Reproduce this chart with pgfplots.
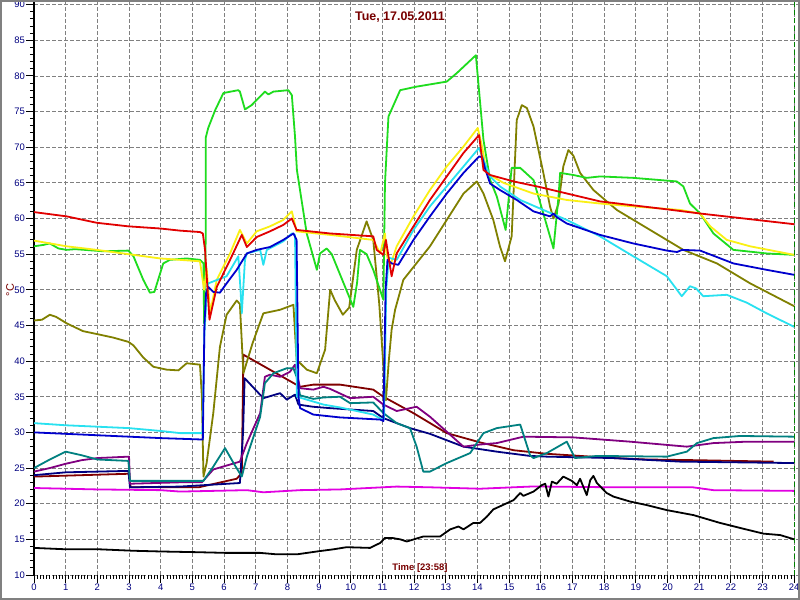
\documentclass[border=0pt]{standalone}
\usepackage{pgfplots}
\pgfplotsset{compat=1.18}
\usepackage{fontspec}
\setmainfont{Liberation Sans}

\definecolor{cred}{RGB}{225,0,0}
\definecolor{cyellow}{RGB}{250,240,20}
\definecolor{cgreen}{RGB}{30,220,30}
\definecolor{cblue}{RGB}{0,0,205}
\definecolor{ccyan}{RGB}{40,225,240}
\definecolor{colive}{RGB}{128,128,0}
\definecolor{cmaroon}{RGB}{128,0,0}
\definecolor{cpurple}{RGB}{128,0,128}
\definecolor{cteal}{RGB}{0,128,128}
\definecolor{cnavy}{RGB}{0,0,128}
\definecolor{cmagenta}{RGB}{225,0,225}
\definecolor{cgrid}{RGB}{128,128,128}
\definecolor{ccursor}{RGB}{0,128,0}
\definecolor{clabel}{RGB}{120,0,0}

\begin{document}
\begin{tikzpicture}[x=1bp,y=1bp]
\useasboundingbox (0,0) rectangle (800,600);
\fill[white] (0,0) rectangle (800,600);
\begin{axis}[
    at={(34bp,25bp)},
    anchor=south west,
    width=764bp,
    height=575bp,
    scale only axis,
    xmin=0, xmax=24.12,
    ymin=10, ymax=90.65,
    xtick={0,1,...,24},
    ytick={10,15,...,90},
    minor x tick num=9,
    minor y tick num=4,
    axis lines*=left,
    x axis line style={draw=none},
    y axis line style={black, line width=1.2bp},
    xmajorgrids, ymajorgrids,
    major grid style={cgrid, line width=0.8bp, dash pattern=on 3.5bp off 2.5bp},
    tick align=outside,
    major tick length=8bp,
    minor tick length=4bp,
    tick style={black, line width=0.9bp},
    ticklabel style={font=\fontsize{9.5}{10}\selectfont, text=cnavy},
    xticklabel style={inner sep=1bp},
    yticklabel style={inner sep=1bp},
    /pgf/number format/assume math mode=true,
    every axis plot/.append style={line width=1.8bp, line join=round},
]

% magenta
\addplot[cmagenta] coordinates {
(0,22.2) (2,22.0) (4,21.9) (4.61,21.7) (6.72,21.9) (7.24,21.6) (8.4,21.9) (9.66,22.0)
(11.45,22.4) (12.5,22.3) (14.08,22.1) (15.66,22.4) (16.19,22.4) (18.29,22.3) (20.8,22.3)
(21.45,21.9) (24,21.8)};

% black
\addplot[black] coordinates {
(0,13.8) (1.03,13.6) (2.08,13.6) (3.14,13.4) (3.98,13.3) (5.14,13.2) (6.08,13.1) (7.14,13.1)
(7.66,12.9) (8.3,12.9) (8.93,13.3) (9.45,13.6) (9.87,13.9) (10.61,13.8) (10.93,14.5)
(11.08,15.2) (11.3,15.2) (11.56,15.0) (11.77,14.7) (12.29,15.4) (12.82,15.4) (13.14,16.4)
(13.4,16.8) (13.56,16.4) (13.87,17.3) (14.08,17.3) (14.3,18.2) (14.5,19.2) (15.14,20.5)
(15.35,21.5) (15.45,21.1) (15.77,21.7) (16.03,22.6) (16.14,22.8) (16.24,21.0) (16.35,23.1)
(16.5,22.8) (16.71,23.8) (16.98,23.2) (17.14,22.6) (17.24,23.5) (17.45,21.2) (17.56,23.3)
(17.66,23.9) (17.77,22.9) (18.08,21.5) (18.29,21.0) (18.82,20.3) (19.35,19.8) (19.98,19.1)
(20.82,18.4) (21.66,17.3) (22.29,16.6) (23.03,15.8) (23.56,15.6) (24,15.0)};

% maroon
\addplot[cmaroon] coordinates {
(0,23.8) (3,24.2) (3.05,22.3) (5.2,22.3) (6.4,23.5) (6.56,24.3) (6.61,40.9) (8.4,36.4)
(8.82,36.7) (9.66,36.7) (10.71,36.0) (11.03,35.0) (11.98,32.7) (13.03,29.9) (14.08,28.6)
(15.14,27.5) (16.19,27.0) (17.24,26.7) (18.29,26.4) (19.35,26.2) (20.93,26.1) (23.35,25.9)};

% navy
\addplot[cnavy] coordinates {
(0,24) (1,24.4) (2,24.5) (2.98,24.6) (3.03,22.3) (4.61,22.4) (6.5,22.9) (6.6,30) (6.65,37.6)
(7.24,34.8) (7.77,35.5) (7.98,34.6) (8.24,35.3) (8.35,33.9) (8.8,33.6) (9.35,33.4)
(10.71,33.0) (11.03,32.0) (11.87,30.6) (12.5,29.8) (13.56,28.0) (14.61,27.3) (15.66,26.7)
(16.19,26.6) (18.29,26.4) (20.4,25.9) (24,25.7)};

% purple
\addplot[cpurple] coordinates {
(0,24.5) (0.5,25) (1,25.6) (1.5,26.1) (2,26.4) (3,26.6) (3.03,22.8) (4.61,23.0) (5.3,23)
(5.66,24.8) (6.5,25.9) (6.72,28.5) (7.14,32.7) (7.29,37.8) (7.45,38.1) (7.77,37.8)
(8.08,38.5) (8.24,39.5) (8.4,36.2) (8.82,36.0) (9.14,36.4) (9.35,36.1) (9.98,34.8)
(10.71,35.0) (11.03,33.9) (11.45,33.0) (12.08,33.6) (12.5,32.2) (13.56,28.0) (14.08,28.3)
(14.61,28.5) (15.45,29.4) (17.03,29.3) (18.82,28.7) (20.61,28.0) (21.45,28.5) (22.5,28.7)
(24,28.7)};

% teal
\addplot[cteal] coordinates {
(0,25) (0.5,26.2) (1,27.3) (1.5,26.8) (2,26.2) (2.98,26.0) (3.03,23.2) (4.61,23.2)
(5.35,23.2) (5.66,25.2) (6.03,27.8) (6.3,25.7) (6.56,23.8) (6.72,26.6) (7.14,32.2)
(7.29,36.9) (7.56,38.3) (7.98,39.0) (8.19,39.0) (8.29,37.8) (8.4,35.2) (8.82,34.7)
(9.14,34.9) (9.66,35.0) (9.98,34.1) (10.71,34.2) (11.03,32.7) (11.45,31.3) (11.87,30.6)
(12.08,28.0) (12.29,24.5) (12.5,24.5) (13.03,25.7) (13.77,27.1) (14.19,29.9) (14.61,30.6)
(15.35,31.1) (15.66,26.8) (15.77,26.4) (16.19,27.1) (16.82,28.7) (17.08,26.4) (17.77,26.7)
(19.98,26.6) (20.61,27.3) (20.93,28.5) (21.45,29.2) (22.29,29.5) (24,29.4)};

% olive
\addplot[colive] coordinates {
(0,45.7) (0.25,45.8) (0.5,46.5) (0.7,46.2) (1.03,45.3) (1.55,44.2) (1.98,43.8) (2.5,43.3)
(2.98,42.7) (3.14,42.2) (3.45,40.5) (3.77,39.2) (4.19,38.8) (4.56,38.7) (4.82,39.7)
(5.24,39.5) (5.3,35) (5.35,23.8) (5.45,25.7) (5.66,32.7) (5.87,42) (6.08,46.5) (6.4,48.5)
(6.5,48) (6.61,38.3) (6.9,42.5) (7.24,46.7) (7.77,47.2) (8.19,47.9) (8.29,40.2) (8.61,38.8)
(8.93,38.3) (9.19,41.6) (9.35,50) (9.5,48.5) (9.75,46.5) (9.95,47.5) (10.19,55.6)
(10.5,59.6) (10.71,57.0) (10.9,48) (11.05,38) (11.11,34.5) (11.2,40) (11.29,44.4)
(11.4,47.2) (11.66,51.4) (12.5,56.1) (13.03,59.8) (13.56,63.5) (13.98,65.2) (14.19,63.5)
(14.5,59.8) (14.71,56.1) (14.87,54.0) (15.08,57.5) (15.24,73.8) (15.4,75.9) (15.56,75.5)
(15.77,72.9) (16.08,66.4) (16.29,61.7) (16.4,60.0) (16.56,62.1) (16.71,67.3) (16.87,69.6)
(17.03,68.8) (17.24,66.4) (17.66,64.0) (18.4,61.2) (19.45,58.4) (20.5,55.6) (21.56,53.7)
(22.61,50.9) (24,47.7)};

% green
\addplot[cgreen] coordinates {
(0,56.1) (0.3,56.3) (0.5,56.5) (0.77,55.8) (1.03,55.6) (1.3,55.7) (2.2,55.4) (2.98,55.5)
(3.14,54.7) (3.45,51.4) (3.66,49.6) (3.8,49.7) (4.08,53.7) (4.29,54.2) (4.82,54.4)
(5.24,54.2) (5.35,53.7) (5.37,45.3) (5.42,57) (5.42,71.3) (5.5,72.7) (5.72,75.2) (5.98,77.6)
(6.45,78.0) (6.5,77.8) (6.66,75.3) (6.87,75.9) (7.29,77.8) (7.4,77.4) (7.56,77.8)
(8.03,78.0) (8.14,77.3) (8.24,71.5) (8.3,66.8) (8.61,57.9) (8.93,52.8) (9.03,55.1)
(9.24,55.8) (9.4,55) (10.08,47.6) (10.2,51) (10.29,55.6) (10.5,55) (10.71,52.8) (11.03,48.6)
(11.08,64.9) (11.19,74.3) (11.56,78.0) (12.08,78.5) (13.03,79.2) (13.35,80.4) (13.95,82.9)
(14.19,71.0) (14.4,65.4) (14.61,63.1) (14.89,58.4) (15.08,67.1) (15.35,67.1) (15.77,65.4)
(16.08,60.7) (16.4,55.8) (16.56,63.1) (16.61,66.4) (17.03,66.1) (17.45,65.7) (17.87,65.9)
(18.92,65.7) (20.29,65.2) (20.5,64.5) (20.71,62.1) (21.03,60.7) (21.45,57.9) (22.08,55.6)
(23.13,55.1) (24,54.9)};

% yellow
\addplot[cyellow] coordinates {
(0,56.9) (1.03,56.1) (1.98,55.6) (2.98,55.0) (3.98,54.4) (5.24,54.0) (5.37,50) (5.45,53)
(5.56,46.8) (5.77,51.4) (6.19,55.1) (6.5,58.4) (6.72,56.5) (7.03,58.2) (7.45,58.9)
(7.87,59.8) (8.14,61.0) (8.29,58.2) (9.35,57.7) (10.71,57.0) (10.93,55.1) (11.08,57.9)
(11.13,55) (11.24,53.3) (11.45,56.1) (11.98,60.3) (12.5,64.0) (13.03,67.3) (13.56,70.1)
(14.01,72.7) (14.15,70) (14.29,66.4) (14.82,65.0) (15.77,63.5) (16.82,62.6) (17.87,62.1)
(18.92,61.7) (20.4,61.2) (21.03,60.7) (21.35,58.9) (21.87,57.0) (22.61,56.1) (24,54.9)};

% cyan
\addplot[ccyan] coordinates {
(0,31.3) (1,31) (2,30.8) (3,30.6) (4,30.2) (4.61,29.9) (5.32,29.9) (5.38,44) (5.45,49)
(5.5,50.9) (6.08,51.9) (6.45,54.7) (6.52,50) (6.56,46.7) (6.66,54.2) (6.72,55.1) (7.14,55.6)
(7.24,53.5) (7.35,55.6) (7.87,56.8) (8.14,57.9) (8.24,57.7) (8.3,35) (8.61,34.6) (9.14,33.9)
(9.66,33.5) (10.71,32.5) (10.95,31.9) (11.05,31.9) (11.12,50) (11.2,54.5) (11.45,54.2)
(11.98,58.4) (12.5,61.7) (13.03,64.5) (13.56,67.3) (14.05,69.9) (14.19,68.2) (14.4,65.9)
(14.71,64.5) (15.35,62.6) (16.08,61.2) (16.82,59.8) (17.87,57.5) (18.92,54.7) (19.98,51.9)
(20.45,49.1) (20.71,50.5) (20.9,50.2) (21.13,49.1) (21.87,49.3) (22.5,48.2) (23.13,46.7)
(24,44.8)};

% blue
\addplot[cblue] coordinates {
(0,30) (1,29.8) (2,29.6) (3,29.4) (4,29.2) (5.33,29) (5.38,45) (5.43,49.5) (5.5,50.4)
(5.66,49.7) (5.87,49.6) (6.08,50.9) (6.4,52.8) (6.72,55.1) (7.03,55.6) (7.45,56.0)
(7.87,57.0) (8.19,57.9) (8.29,57.0) (8.35,35) (8.4,33.4) (8.82,32.5) (9.66,32.1)
(10.93,31.8) (11.03,31.6) (11.1,50) (11.16,54.2) (11.29,53.7) (11.5,53.5) (11.98,57.0)
(12.5,60.3) (13.03,63.5) (13.56,66.4) (14.05,68.7) (14.15,68.6) (14.24,67.0) (14.4,64.9)
(14.71,64.0) (15.24,62.6) (15.77,61.0) (16.29,60.3) (16.4,60.7) (16.5,60.2) (16.82,59.3)
(17.87,57.7) (18.92,56.5) (19.98,55.5) (20.3,55.3) (20.46,55.6) (21.03,55.5) (22.08,53.7)
(23.13,52.8) (24,52.1)};

% red
\addplot[cred] coordinates {
(0,60.9) (1.03,60.3) (1.98,59.4) (2.98,58.9) (3.98,58.6) (4.61,58.3) (5.24,58.1) (5.33,57.9)
(5.4,55.6) (5.54,45.8) (5.77,50.4) (6.19,54.2) (6.56,57.7) (6.72,56.0) (7.03,57.4)
(7.45,58.2) (7.87,59.1) (8.14,60.0) (8.29,58.4) (9.35,57.9) (10.71,57.5) (10.82,55.6)
(11.03,54.9) (11.11,57.0) (11.24,53.3) (11.29,51.9) (11.45,55.1) (11.98,58.9) (12.5,62.6)
(13.03,65.9) (13.56,69.2) (14.05,71.7) (14.19,66.8) (14.4,66.1) (15.14,65.2) (15.98,64.4)
(17.87,62.4) (19.77,61.4) (21.03,60.7) (24,59.2)};

% cursor line
\draw[ccursor, line width=0.9bp, dash pattern=on 5bp off 3bp]
  (axis cs:24,10) -- (axis cs:24,90.65);
\end{axis}

\draw[cgrid, line width=2bp] (1,1) rectangle (799,599);
\node[text=clabel, font=\bfseries\fontsize{12.5}{14}\selectfont] at (400,583) {Tue, 17.05.2011};
\node[text=clabel, font=\bfseries\fontsize{9.5}{11}\selectfont] at (420,32) {Time [23:58]};
\node[text=clabel, rotate=90, font=\fontsize{11}{12}\selectfont] at (10,310) {°C};
\end{tikzpicture}
\end{document}
